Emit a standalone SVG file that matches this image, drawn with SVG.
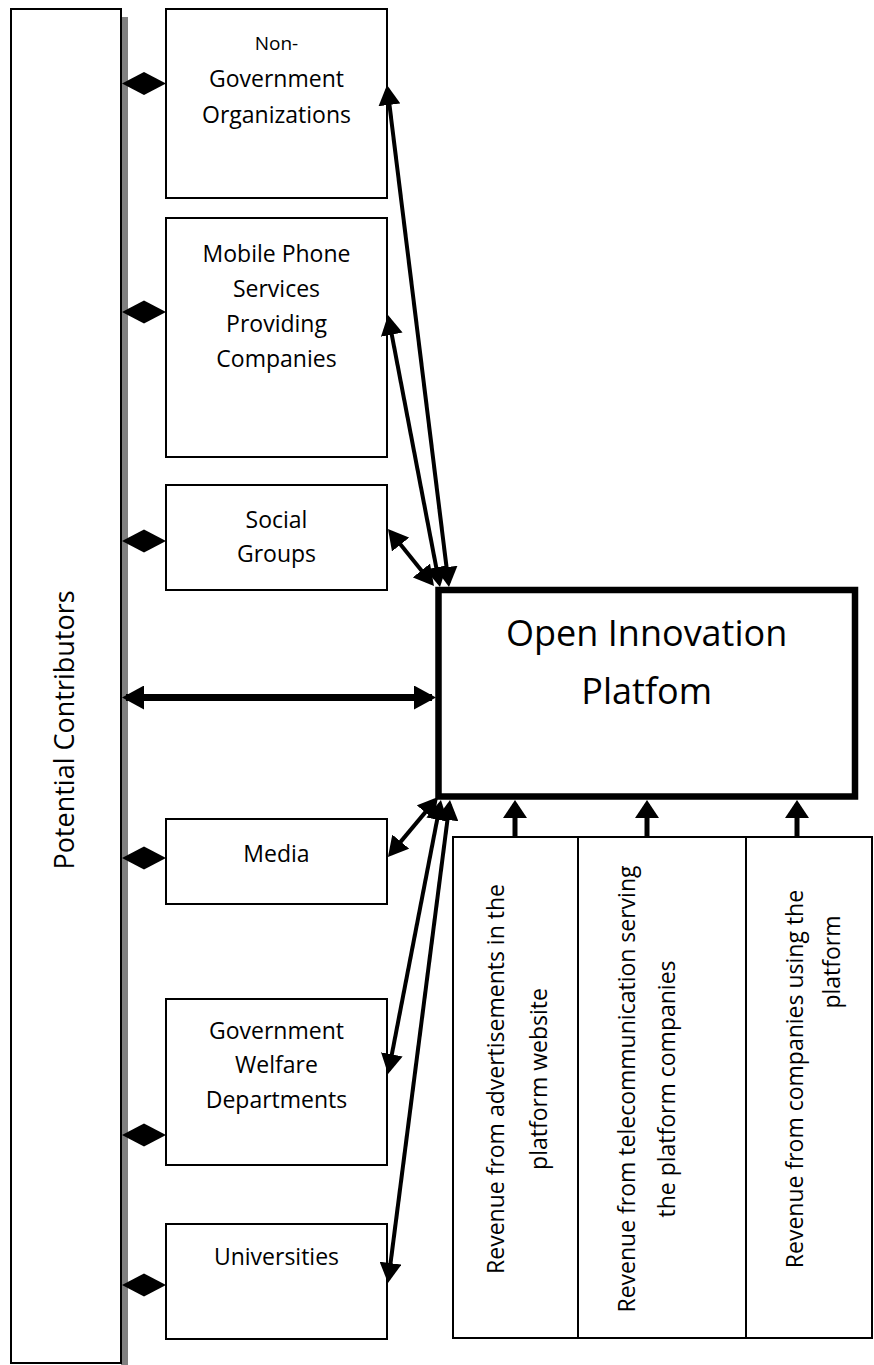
<svg xmlns="http://www.w3.org/2000/svg" width="874" height="1365" viewBox="0 0 874 1365">
<style>
.box{fill:#fff;stroke:#000;stroke-width:2}
.t{font-family:"Open Sans","Noto Sans",sans-serif;font-size:23px;fill:#000;text-anchor:middle}
.big{font-size:36px}
.ln{stroke:#000;stroke-width:4;fill:none}
</style>
<defs>
<marker id="ah" viewBox="0 0 20 22" markerUnits="userSpaceOnUse" markerWidth="20" markerHeight="22" refX="16" refY="11" orient="auto-start-reverse">
<path d="M0,0 L20,11 L0,22 z" fill="#000"/>
</marker>
<marker id="ahb" viewBox="0 0 22 24" markerUnits="userSpaceOnUse" markerWidth="22" markerHeight="24" refX="18" refY="12" orient="auto-start-reverse">
<path d="M0,0 L22,12 L0,24 z" fill="#000"/>
</marker>
<marker id="ahr" viewBox="0 0 18 24" markerUnits="userSpaceOnUse" markerWidth="18" markerHeight="24" refX="14" refY="12" orient="auto">
<path d="M0,0 L18,12 L0,24 z" fill="#000"/>
</marker>
<polygon id="dia" points="122,0 144,-11.5 166,0 144,11.5" fill="#000"/>
</defs>

<g id="potential-contributors">
<rect x="121" y="17" width="7" height="1348" fill="#808080"/>
<rect class="box" x="11" y="9" width="110" height="1354"/>
<text class="t" transform="translate(74,730) rotate(-90)" style="font-size:27px">Potential Contributors</text>
</g>

<g id="ngo">
<rect class="box" x="166" y="9" width="221" height="189"/>
<text class="t" x="276.5" y="50" style="font-size:19px">Non-</text>
<text class="t" x="276.5" y="87">Government</text>
<text class="t" x="276.5" y="123">Organizations</text>
</g>

<g id="mobile">
<rect class="box" x="166" y="218" width="221" height="239"/>
<text class="t" x="276.5" y="262">Mobile Phone</text>
<text class="t" x="276.5" y="297">Services</text>
<text class="t" x="276.5" y="332">Providing</text>
<text class="t" x="276.5" y="367">Companies</text>
</g>

<g id="social">
<rect class="box" x="166" y="485" width="221" height="105"/>
<text class="t" x="276.5" y="528">Social</text>
<text class="t" x="276.5" y="562">Groups</text>
</g>

<g id="media">
<rect class="box" x="166" y="819" width="221" height="85"/>
<text class="t" x="276.5" y="862">Media</text>
</g>

<g id="gov-welfare">
<rect class="box" x="166" y="999" width="221" height="166"/>
<text class="t" x="276.5" y="1039">Government</text>
<text class="t" x="276.5" y="1073">Welfare</text>
<text class="t" x="276.5" y="1108">Departments</text>
</g>

<g id="universities">
<rect class="box" x="166" y="1224" width="221" height="115"/>
<text class="t" x="276.5" y="1265">Universities</text>
</g>

<g id="platform">
<rect x="438.5" y="590" width="416.5" height="206.5" fill="#fff" stroke="#000" stroke-width="6.5"/>
<text class="t big" x="646.7" y="646">Open Innovation</text>
<text class="t big" x="646.7" y="704">Platfom</text>
</g>

<g id="revenue-ads">
<rect class="box" x="453" y="837" width="125" height="501"/>
<text class="t" transform="translate(504,1079) rotate(-90)">Revenue from advertisements in the</text>
<text class="t" transform="translate(547,1079) rotate(-90)">platform website</text>
</g>
<g id="revenue-telecom">
<rect class="box" x="578" y="837" width="168" height="501"/>
<text class="t" transform="translate(635,1089) rotate(-90)">Revenue from telecommunication serving</text>
<text class="t" transform="translate(675,1089) rotate(-90)">the platform companies</text>
</g>
<g id="revenue-companies">
<rect class="box" x="746" y="837" width="126" height="501"/>
<text class="t" transform="translate(803,1079) rotate(-90)">Revenue from companies using the</text>
<text class="t" transform="translate(840,962) rotate(-90)">platform</text>
</g>

<g id="connectors">
<use href="#dia" y="83.5"/>
<use href="#dia" y="312"/>
<use href="#dia" y="541"/>
<use href="#dia" y="858"/>
<use href="#dia" y="1135"/>
<use href="#dia" y="1285"/>
<line x1="126" y1="697.5" x2="432" y2="697.5" stroke="#000" stroke-width="7" marker-start="url(#ahb)" marker-end="url(#ahb)"/>
<line class="ln" x1="387.5" y1="89" x2="448.5" y2="583" marker-start="url(#ah)" marker-end="url(#ah)"/>
<line class="ln" x1="388.75" y1="318.9" x2="439.25" y2="583.1" marker-start="url(#ah)" marker-end="url(#ah)"/>
<line class="ln" x1="390.5" y1="532.1" x2="431.5" y2="582.9" marker-start="url(#ah)" marker-end="url(#ah)"/>
<line class="ln" x1="435.5" y1="800.1" x2="390.5" y2="853.9" marker-start="url(#ah)" marker-end="url(#ah)"/>
<line class="ln" x1="440.2" y1="803.9" x2="388.8" y2="1070.1" marker-start="url(#ah)" marker-end="url(#ah)"/>
<line class="ln" x1="449.5" y1="804" x2="388.5" y2="1279" marker-start="url(#ah)" marker-end="url(#ah)"/>
<line x1="515" y1="837" x2="515" y2="804" stroke="#000" stroke-width="5" marker-end="url(#ahr)"/>
<line x1="647" y1="837" x2="647" y2="804" stroke="#000" stroke-width="5" marker-end="url(#ahr)"/>
<line x1="797" y1="837" x2="797" y2="804" stroke="#000" stroke-width="5" marker-end="url(#ahr)"/>
</g>
</svg>
